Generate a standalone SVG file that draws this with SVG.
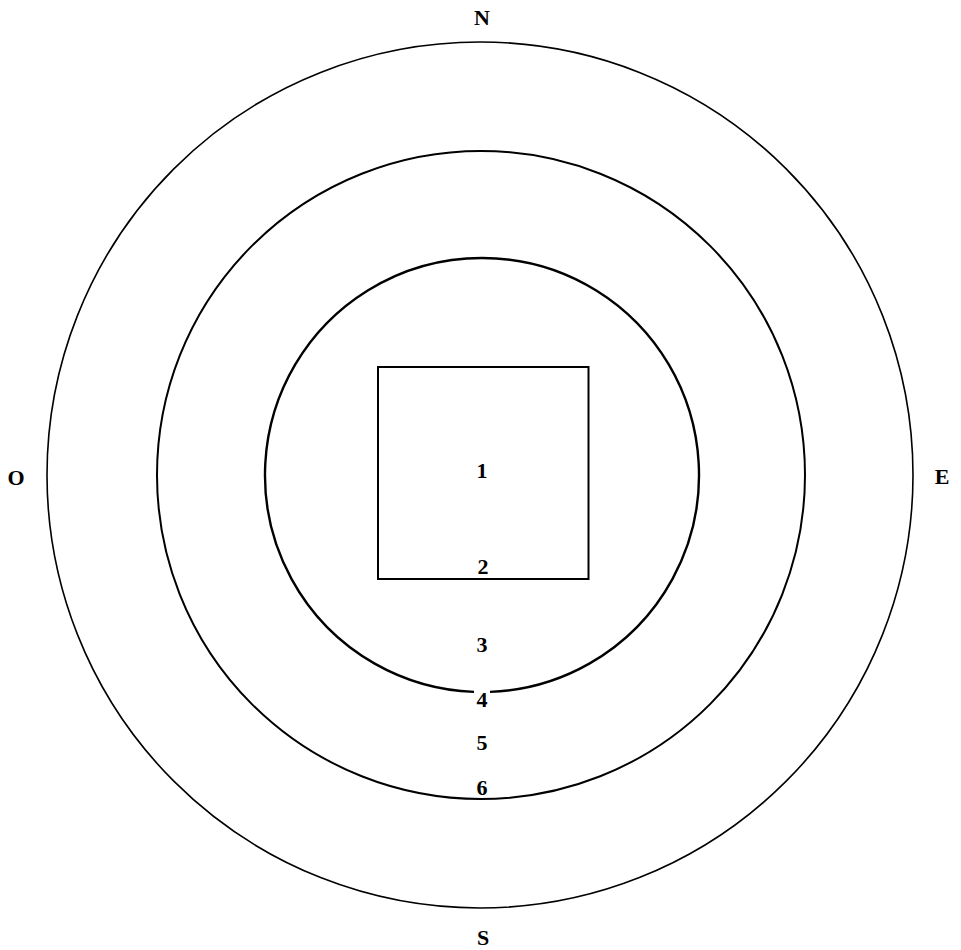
<svg xmlns="http://www.w3.org/2000/svg" width="961" height="950" viewBox="0 0 961 950">
<style>
.ring{fill:none;stroke:#000}
.lbl{font-family:"Liberation Serif","DejaVu Serif",serif;font-weight:bold;font-size:22px;fill:#000;text-anchor:middle}
</style>
<rect width="961" height="950" fill="#fff"/>
<g id="rings">
<circle id="ring-outer" class="ring" cx="480" cy="475" r="433" stroke-width="1.6"/>
<circle id="ring-middle" class="ring" cx="481" cy="475" r="324" stroke-width="2"/>
<path id="ring-inner" class="ring" stroke-width="2.4" d="M 474 691.85 A 217 217 0 1 1 490 691.85"/>
</g>
<g id="square">
<rect x="378" y="367" width="210.5" height="212" fill="none" stroke="#000" stroke-width="2"/>
</g>
<g id="labels">
<text class="lbl" x="482" y="25">N</text>
<text class="lbl" x="16" y="485">O</text>
<text class="lbl" x="942" y="484">E</text>
<text class="lbl" x="483" y="945">S</text>
<text class="lbl" x="482" y="478">1</text>
<text class="lbl" x="483" y="574">2</text>
<text class="lbl" x="482" y="652">3</text>
<text class="lbl" x="482" y="707">4</text>
<text class="lbl" x="482" y="750">5</text>
<text class="lbl" x="482" y="795">6</text>
</g>
</svg>
